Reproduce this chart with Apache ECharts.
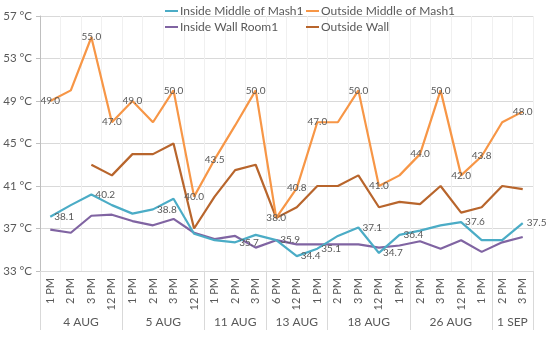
<!DOCTYPE html>
<html>
<head>
<meta charset="utf-8">
<script src="https://cdn.jsdelivr.net/npm/echarts@6.0.0/dist/echarts.min.js"></script>
<style>html,body{margin:0;padding:0;background:#fff}#c{width:550px;height:341px}</style>
</head>
<body>
<div id="c"></div>
<script>
// ---- data ----
var times = ['1 PM','2 PM','3 PM','12 PM','1 PM','2 PM','3 PM','12 PM','1 PM','2 PM','3 PM','6 PM','12 PM','1 PM','2 PM','3 PM','12 PM','1 PM','2 PM','3 PM','12 PM','1 PM','2 PM','3 PM'];
var dates = ['4 AUG','4 AUG','4 AUG','4 AUG','5 AUG','5 AUG','5 AUG','5 AUG','11 AUG','11 AUG','11 AUG','13 AUG','13 AUG','13 AUG','18 AUG','18 AUG','18 AUG','18 AUG','26 AUG','26 AUG','26 AUG','26 AUG','1 SEP','1 SEP'];
var insideMiddle = [38.1,39.2,40.2,39.2,38.4,38.8,39.8,36.5,35.9,35.7,36.4,35.9,34.4,35.1,36.3,37.1,34.7,36.4,36.8,37.3,37.6,35.9,35.9,37.5];
var outsideMiddle = [49.0,50.0,55.0,47.0,49.0,47.0,50.0,40.0,43.5,46.7,50.0,38.0,40.8,47.0,47.0,50.0,41.0,42.0,44.0,50.0,42.0,43.8,47.0,48.0];
var insideWall = [36.9,36.6,38.2,38.3,37.7,37.3,37.9,36.6,36.0,36.3,35.2,35.9,35.5,35.5,35.5,35.5,35.2,35.4,35.8,35.1,35.9,34.8,35.7,36.2];
var outsideWall = [null,null,43.0,42.0,44.0,44.0,45.0,37.0,40.0,42.5,43.0,38.0,39.0,41.0,41.0,42.0,39.0,39.5,39.3,41.0,38.5,39.0,41.0,40.7];
var insideMiddleLabeled = [0,2,5,9,11,12,13,15,16,17,20,23];
var outsideMiddleLabeled = [0,2,3,4,6,7,8,10,11,12,13,15,16,18,19,20,21,23];
var yTicks = [33,37,41,45,49,53,57];

// ---- groups from dates ----
var groups = [];
dates.forEach(function(d,i){
  if(!groups.length || groups[groups.length-1].name !== d) groups.push({name:d,start:i,end:i+1});
  else groups[groups.length-1].end = i+1;
});
var boundaries = [0].concat(groups.map(function(g){return g.end;}));
var centers = groups.map(function(g){return (g.start+g.end)/2;});

function withLabels(vals, idx){
  return vals.map(function(v,i){
    return idx.indexOf(i) >= 0 ? {value:v,label:{show:true}} : v;
  });
}
var txt = '#595959';
var font = 'Lato, "Liberation Sans", sans-serif';

var chart = echarts.init(document.getElementById('c'));
chart.setOption({
  animation:false,
  textStyle:{fontFamily:font},
  legend:[
    {left:165, top:4, padding:0, orient:'vertical', icon:'rect', itemWidth:13, itemHeight:2, itemGap:2,
     textStyle:{color:txt,fontSize:12,lineHeight:14,fontFamily:font,padding:[0,0,0,-3]},
     data:['Inside Middle of Mash1','Inside Wall Room1']},
    {left:306, top:4, padding:0, orient:'vertical', icon:'rect', itemWidth:13, itemHeight:2, itemGap:2,
     textStyle:{color:txt,fontSize:12,lineHeight:14,fontFamily:font,padding:[0,0,0,-3]},
     data:['Outside Middle of Mash1','Outside Wall']}
  ],
  grid:{left:40, right:17, top:16, bottom:70},
  xAxis:[
    {type:'category', data:times, boundaryGap:true,
     axisLine:{show:true,lineStyle:{color:'#D9D9D9'}},
     axisTick:{show:false},
     splitLine:{show:true,interval:0,lineStyle:{color:'#F0F0F0'}},
     axisLabel:{rotate:90, interval:0, color:txt, fontSize:11, margin:7, fontFamily:font}},
    {type:'value', min:0, max:times.length, position:'bottom', offset:59,
     axisLine:{show:false},
     splitLine:{show:false},
     axisTick:{show:true, inside:true, length:59, customValues:boundaries, lineStyle:{color:'#D9D9D9'}},
     axisLabel:{show:true, inside:true, margin:2, color:txt, fontSize:12, fontFamily:font,
       customValues:centers,
       formatter:function(v){ for(var k=0;k<centers.length;k++){ if(Math.abs(centers[k]-v)<1e-6) return groups[k].name; } return ''; }}}
  ],
  yAxis:{type:'value', min:yTicks[0], max:yTicks[yTicks.length-1], interval:yTicks[1]-yTicks[0],
    axisLine:{show:true,lineStyle:{color:'#BFBFBF'}},
    axisTick:{show:true,length:4,lineStyle:{color:'#BFBFBF'}},
    splitLine:{lineStyle:{color:'#D9D9D9'}},
    axisLabel:{color:txt,fontSize:11.5,margin:8,formatter:'{value} °C',fontFamily:font}},
  series:[
    {name:'Inside Middle of Mash1', type:'line', data:withLabels(insideMiddle,insideMiddleLabeled),
     symbol:'circle', symbolSize:0, showSymbol:true, lineStyle:{width:2.2,color:'#4BACC6'}, itemStyle:{color:'#4BACC6'}, z:4,
     label:{show:false, position:'right', distance:4, color:txt, fontSize:10, fontFamily:font, formatter:function(p){return p.value.toFixed(1);}}},
    {name:'Outside Middle of Mash1', type:'line', data:withLabels(outsideMiddle,outsideMiddleLabeled),
     symbol:'circle', symbolSize:0, showSymbol:true, lineStyle:{width:2.2,color:'#F79646'}, itemStyle:{color:'#F79646'}, z:3,
     label:{show:false, position:'inside', color:txt, fontSize:10, fontFamily:font, formatter:function(p){return p.value.toFixed(1);}}},
    {name:'Inside Wall Room1', type:'line', data:insideWall,
     symbol:'none', lineStyle:{width:2.2,color:'#8064A2'}, itemStyle:{color:'#8064A2'}, z:2},
    {name:'Outside Wall', type:'line', data:outsideWall, connectNulls:false,
     symbol:'none', lineStyle:{width:2.2,color:'#B8652C'}, itemStyle:{color:'#B8652C'}, z:2}
  ]
});
</script>
</body>
</html>
